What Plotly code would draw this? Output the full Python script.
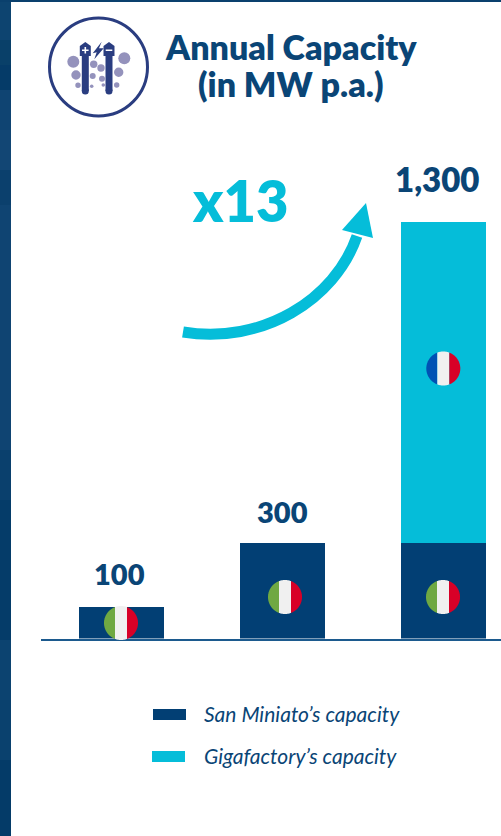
import numpy as np
import plotly.graph_objects as go

# ---- data ----
stages = [0, 1, 2]
san_miniato = [100, 300, 300]
gigafactory = [0, 0, 1000]
totals = [100, 300, 1300]
total_labels = ["100", "300", "1,300"]
series_names = ["San Miniato’s capacity", "Gigafactory’s capacity"]
title_lines = ["Annual Capacity", "(in MW p.a.)"]
multiple_label = "x13"

W, H = 501, 836
NAVY, CYAN, INK = "#023f74", "#05bdd9", "#0a4576"
ICON, BUBBLE = "#2a3d80", "#9492bc"

def px(x):
    return x / W

def py(y):
    return 1 - y / H

shapes = []

def rect(x0, y0, x1, y1, color, layer="below"):
    shapes.append(dict(type="rect", xref="paper", yref="paper", x0=px(x0), x1=px(x1),
                       y0=py(y1), y1=py(y0), fillcolor=color, line_width=0, layer=layer))

def circle(cx, cy, r, color, line=None, lw=0):
    shapes.append(dict(type="circle", xref="paper", yref="paper", x0=px(cx - r), x1=px(cx + r),
                       y0=py(cy + r), y1=py(cy - r), fillcolor=color,
                       line=dict(color=line or color, width=lw), layer="above"))

def poly(points, color):
    d = "M" + " L".join(f"{px(x):.5f},{py(y):.5f}" for x, y in points) + " Z"
    shapes.append(dict(type="path", xref="paper", yref="paper", path=d, fillcolor=color,
                       line_width=0, layer="above"))

def stripe(cx, cy, r, a, b, color):
    t = np.linspace(np.arccos(np.clip(a / r, -1, 1)), np.arccos(np.clip(b / r, -1, 1)), 24)
    top = [(cx + r * np.cos(v), cy - r * np.sin(v)) for v in t]
    bottom = [(cx + r * np.cos(v), cy + r * np.sin(v)) for v in t[::-1]]
    poly(top + bottom, color)

def flag(cx, cy, colors):
    r = 17
    stripe(cx, cy, r, -r, -6, colors[0])
    stripe(cx, cy, r, -6, 6, colors[1])
    stripe(cx, cy, r, 6, r, colors[2])

ITALY = ("#6fa842", "#f0f0f0", "#d80027")
FRANCE = ("#0052b4", "#f0f0f0", "#d80027")

# slide background peeking out on the left and the top
for y0, y1, col in [(0, 40, "#0d4470"), (40, 65, "#094069"), (65, 90, "#053b68"), (90, 130, "#0f4472"),
                    (130, 170, "#124674"), (170, 205, "#0b406d"), (205, 450, "#0f4472"),
                    (450, 500, "#0a406d"), (500, 640, "#053c69"),
                    (640, 700, "#0c4370"), (700, 760, "#0a416e"), (760, 836, "#043b68")]:
    rect(0, y0, 11, y1, col)
rect(0, 0, W, 2, "#0a406d")

# legend swatches
rect(153, 709, 186, 720, NAVY)
rect(152, 751, 185, 762, CYAN)

# flags
flag(121, 623, ITALY)
flag(285, 597, ITALY)
flag(443, 597, ITALY)
flag(443.3, 368.5, FRANCE)

# growth arrow
a = [(183, 332), (262, 345), (335, 300), (357, 236)]
shapes.append(dict(type="path", xref="paper", yref="paper",
                   path=f"M{px(a[0][0])},{py(a[0][1])} C{px(a[1][0])},{py(a[1][1])} "
                        f"{px(a[2][0])},{py(a[2][1])} {px(a[3][0])},{py(a[3][1])}",
                   fillcolor="rgba(0,0,0,0)", line=dict(color=CYAN, width=11), layer="above"))
poly([(366, 203), (342, 230), (373, 238)], CYAN)

# icon
circle(98.5, 67, 49, "rgba(0,0,0,0)", ICON, 3)
for cx, cy, r in [(73.3, 61.7, 6), (124.3, 58.3, 6), (76, 75, 4.7), (118.7, 72.3, 4.7),
                  (78, 85.3, 2.7), (116.7, 85, 2.7), (93.7, 64.3, 3.7), (101, 68, 3.7),
                  (92.7, 76, 3), (102, 78.7, 3), (91.7, 86.3, 1.8), (103.3, 85, 1.8)]:
    circle(cx, cy, r, BUBBLE)
for cx in (85.3, 109):
    rect(cx - 3.5, 52, cx + 3.5, 91, ICON, "above")
    circle(cx, 91, 3.5, ICON)
    poly([(cx, 42), (cx + 5.5, 46), (cx + 5.5, 56), (cx - 5.5, 56), (cx - 5.5, 46)], ICON)
rect(82, 49.5, 88.6, 51, "white", "above")
rect(84.5, 47, 86.1, 53.5, "white", "above")
rect(105.7, 49.5, 112.3, 51, "white", "above")
poly([(101.7, 41.7), (92.7, 53.3), (96.7, 52.3), (94.3, 59.3), (103.7, 48.3), (99, 48.3)], ICON)

# ---- traces ----
fig = go.Figure()
fig.add_bar(x=stages, y=san_miniato, name=series_names[0], marker_color=NAVY, marker_line_width=0, width=0.528)
fig.add_bar(x=stages, y=gigafactory, name=series_names[1], marker_color=CYAN, marker_line_width=0, width=0.528)

annotations = []

def label(x, y, text, size, color=INK, bold=True, italic=False):
    s = f"<i>{text}</i>" if italic else text
    annotations.append(dict(x=px(x), y=py(y), xref="paper", yref="paper", text=s, showarrow=False,
                            xanchor="center", yanchor="middle",
                            font=dict(family="Lato", size=size, color=color, weight=800 if bold else 400)))

label(291, 46, title_lines[0], 34)
label(291, 84, title_lines[1], 34)
label(239.5, 200, multiple_label, 56, CYAN)
label(301.5, 713.5, series_names[0], 21, bold=False, italic=True)
label(300, 755.5, series_names[1], 21, bold=False, italic=True)

for s, t, lab, yshift, xshift, size in zip(stages, totals, total_labels, (33, 31, 43), (-2.5, 0, -6.5), (29, 29, 33)):
    annotations.append(dict(x=s, y=t, xref="x", yref="y", text=lab, showarrow=False,
                            yshift=yshift, xshift=xshift, xanchor="center", yanchor="middle",
                            font=dict(family="Lato", size=size, color=INK, weight=800)))

fig.update_layout(
    width=W, height=H, margin=dict(l=0, r=0, t=0, b=0), autosize=False,
    barmode="stack", showlegend=False, paper_bgcolor="white", plot_bgcolor="rgba(0,0,0,0)",
    bargap=0, xaxis=dict(domain=[41 / W, 1], range=[-0.5, 2.357], visible=True, showticklabels=False,
                         ticks="", showgrid=False, zeroline=False, showline=True,
                         linecolor="#1c5a8e", linewidth=2),
    yaxis=dict(domain=[197.48 / H, 1], range=[0, 1995.25], visible=False, fixedrange=True),
    shapes=shapes, annotations=annotations,
)

fig.write_html("out.html", config=dict(displayModeBar=False),
               post_script="document.body.style.margin='0';document.body.style.overflow='hidden';")
